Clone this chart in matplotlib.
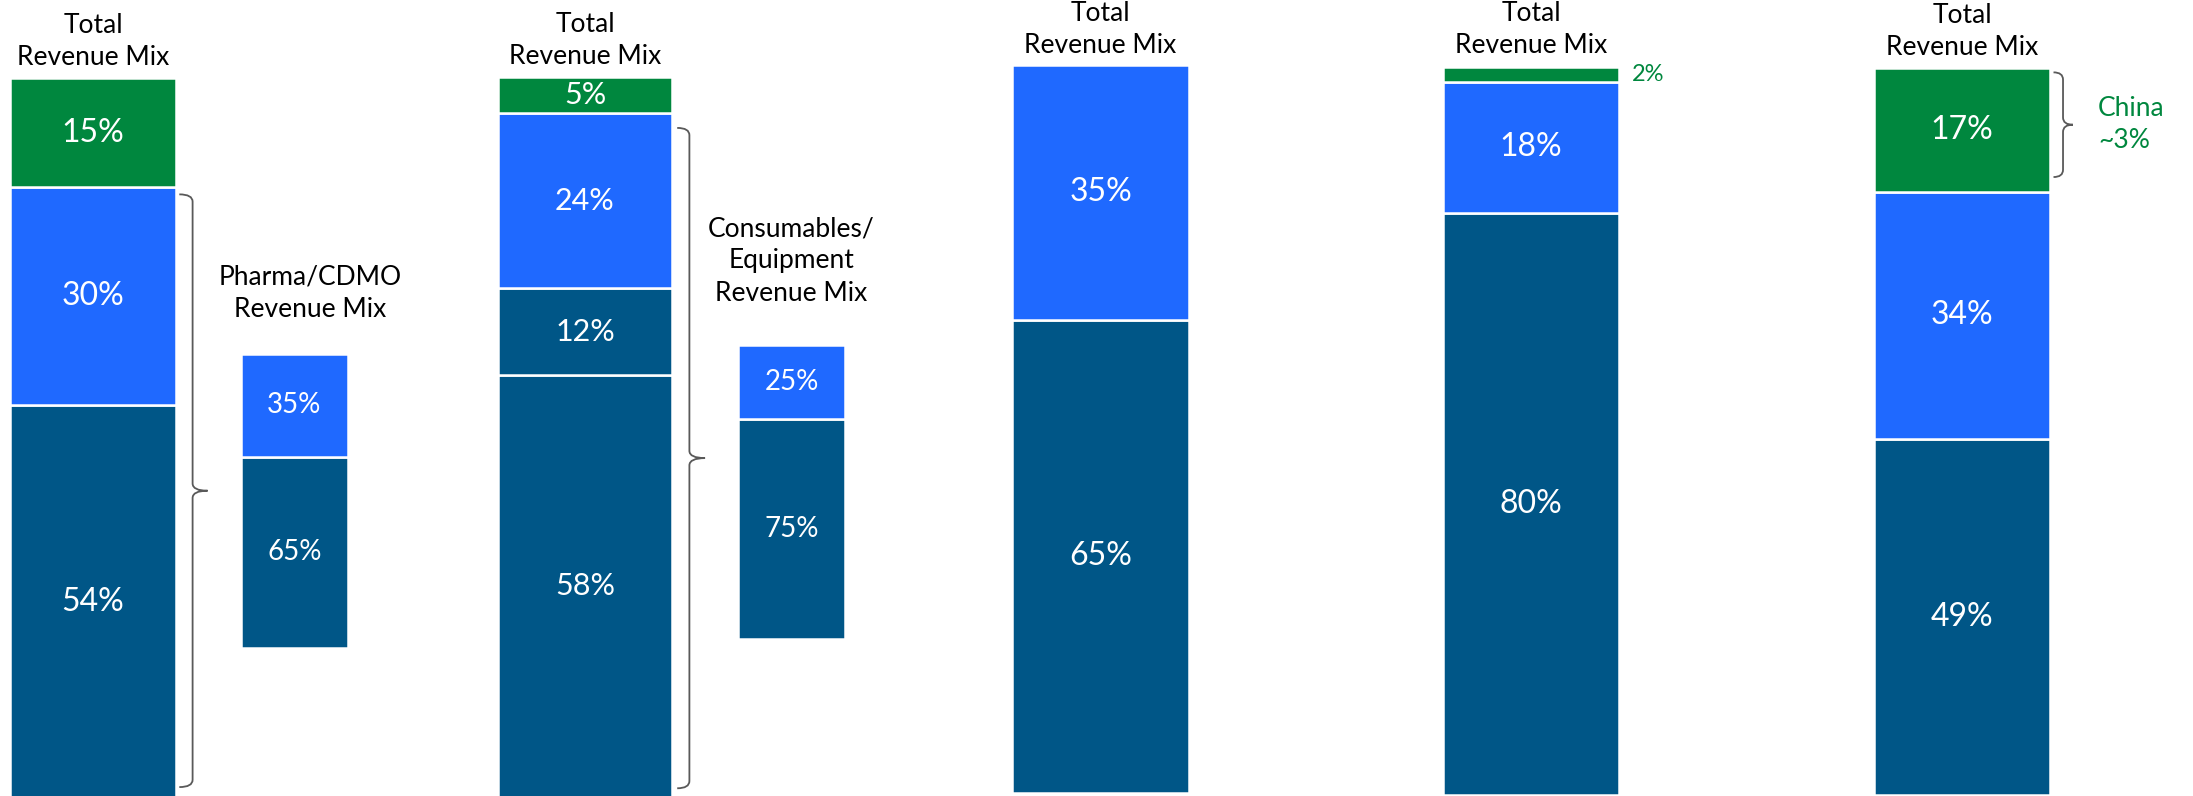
import matplotlib
matplotlib.use('Agg')
import matplotlib.pyplot as plt
from matplotlib.path import Path
from matplotlib.patches import PathPatch

plt.rcParams['font.family'] = ['Lato', 'DejaVu Sans']

# Colores
VERDE = '#00873E'
AZUL = '#1F69FF'
OSCURO = '#005687'
GRIS = '#595959'

# Datos: segmentos de abajo hacia arriba
total_1 = [54, 30, 15]
colores_1 = [OSCURO, AZUL, VERDE]
pharma = [65, 35]
colores_pharma = [OSCURO, AZUL]

total_2 = [58, 12, 24, 5]
colores_2 = [OSCURO, OSCURO, AZUL, VERDE]
consumibles = [75, 25]
colores_consumibles = [OSCURO, AZUL]

total_3 = [65, 35]
colores_3 = [OSCURO, AZUL]

total_4 = [80, 18, 2]
colores_4 = [OSCURO, AZUL, VERDE]

total_5 = [49, 34, 17]
colores_5 = [OSCURO, AZUL, VERDE]

W, H = 2193, 796
fig = plt.figure(figsize=(W / 100, H / 100), dpi=100, facecolor='white')


def ejes_barra(izq, der, arriba, abajo):
    # posicion en pixeles -> fraccion de figura
    ax = fig.add_axes([izq / W, 1 - abajo / H, (der - izq) / W, (abajo - arriba) / H])
    ax.axis('off')
    return ax


def barra_apilada(ax, valores, colores, tam=22, etiquetas=True):
    base = 0
    for v, c in zip(valores, colores):
        ax.bar(0, v, bottom=base, width=1, color=c, edgecolor='white', linewidth=1.8)
        if etiquetas:
            ax.text(0, base + v / 2, f'{v}%', ha='center', va='center',
                    color='white', fontsize=tam)
        base += v
    ax.set_xlim(-0.5, 0.5)
    ax.set_ylim(0, base)
    return base


def titulo(ax, texto, dx=0, dy=9.5):
    ax.annotate(texto, xy=(0, ax.get_ylim()[1]), xytext=(dx, dy),
                textcoords='offset points', ha='center', va='baseline',
                multialignment='center', fontsize=19, linespacing=1.36,
                annotation_clip=False)


def llave(ax, y0, y1, x0, xv, xt, r=1.0):
    ym = (y0 + y1) / 2
    verts = [(x0, y1), (xv, y1), (xv, y1 - r), (xv, ym + r), (xv, ym), (xt, ym),
             (xv, ym), (xv, ym - r), (xv, y0 + r), (xv, y0), (x0, y0)]
    codes = [Path.MOVETO, Path.CURVE3, Path.CURVE3, Path.LINETO, Path.CURVE3, Path.CURVE3,
             Path.CURVE3, Path.CURVE3, Path.LINETO, Path.CURVE3, Path.CURVE3]
    ax.add_patch(PathPatch(Path(verts, codes), facecolor='none', edgecolor=GRIS,
                           linewidth=1.3, clip_on=False))
    return ym


# Grupo 1
ax1 = ejes_barra(10, 176, 78, 798)
barra_apilada(ax1, total_1, colores_1, tam=23)
titulo(ax1, 'Total\nRevenue Mix')
llave(ax1, 1.5, 83, 0.52, 0.60, 0.69)

ax1b = ejes_barra(241, 348, 354, 648)
barra_apilada(ax1b, pharma, colores_pharma, tam=20)
titulo(ax1b, 'Pharma/CDMO\nRevenue Mix', dx=11, dy=26.5)

# Grupo 2
ax2 = ejes_barra(498, 672, 77, 797)
barra_apilada(ax2, total_2, colores_2, tam=22)
titulo(ax2, 'Total\nRevenue Mix')
llave(ax2, 1.2, 92, 0.53, 0.60, 0.69)

ax2b = ejes_barra(738, 845, 345, 639)
barra_apilada(ax2b, consumibles, colores_consumibles, tam=20)
titulo(ax2b, 'Consumables/\nEquipment\nRevenue Mix', dy=32)

# Grupo 3
ax3 = ejes_barra(1012, 1189, 65, 793)
barra_apilada(ax3, total_3, colores_3, tam=23)
titulo(ax3, 'Total\nRevenue Mix', dy=8.5)

# Grupo 4 (etiqueta verde fuera de la barra)
ax4 = ejes_barra(1443, 1619, 67, 795)
base = 0
for v, c in zip(total_4, colores_4):
    ax4.bar(0, v, bottom=base, width=1, color=c, edgecolor='white', linewidth=1.8)
    if c != VERDE:
        ax4.text(0, base + v / 2, f'{v}%', ha='center', va='center', color='white', fontsize=23)
    else:
        ax4.annotate(f'{v}%', xy=(0.5, base + v / 2), xytext=(9, 0), textcoords='offset points',
                     ha='left', va='center', color=VERDE, fontsize=17, annotation_clip=False)
    base += v
ax4.set_xlim(-0.5, 0.5)
ax4.set_ylim(0, base)
titulo(ax4, 'Total\nRevenue Mix', dy=10)

# Grupo 5 (China)
ax5 = ejes_barra(1874, 2050, 68, 795)
barra_apilada(ax5, total_5, colores_5, tam=23)
titulo(ax5, 'Total\nRevenue Mix', dy=9.5)
ym = llave(ax5, 85, 99.4, 0.52, 0.574, 0.63)
ax5.annotate('China\n~3%', xy=(0.63, ym), xytext=(18, 0), textcoords='offset points',
             ha='left', va='center', color=VERDE, fontsize=19, linespacing=1.36,
             annotation_clip=False)

fig.savefig('out.png', dpi=100, facecolor='white')
